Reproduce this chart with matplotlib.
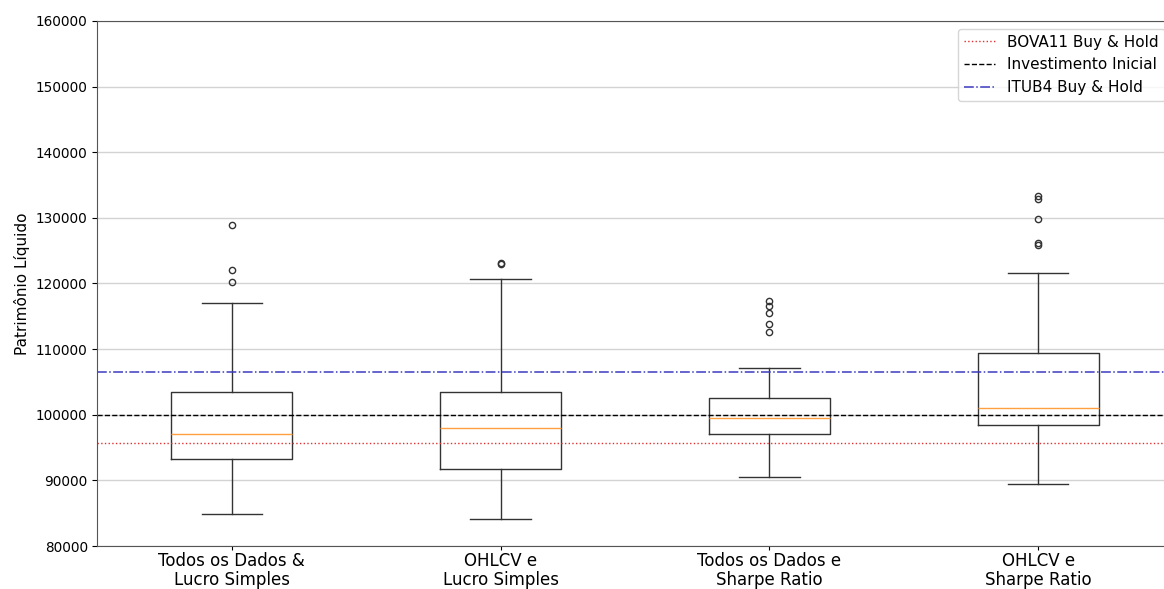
import matplotlib
matplotlib.use('Agg')
import matplotlib.pyplot as plt

# Box statistics
labels = ['Todos os Dados &\nLucro Simples', 'OHLCV e\nLucro Simples',
          'Todos os Dados e\nSharpe Ratio', 'OHLCV e\nSharpe Ratio']
whislo = [84900, 84100, 90500, 89400]
q1 = [93300, 91700, 97000, 98500]
med = [97100, 98000, 99500, 101000]
q3 = [103500, 103400, 102600, 109400]
whishi = [117100, 120700, 107100, 121600]
fliers = [
    [128900, 122000, 120200],
    [123100, 122900],
    [117300, 116500, 115500, 113900, 112600],
    [133300, 132900, 129800, 126100, 125900],
]

bova11 = 95700
inicial = 100000
itub4 = 106500

stats = []
for i in range(len(labels)):
    stats.append({'label': labels[i], 'whislo': whislo[i], 'q1': q1[i], 'med': med[i],
                  'q3': q3[i], 'whishi': whishi[i], 'fliers': fliers[i]})

fig = plt.figure(figsize=(11.64, 5.89), dpi=100)
# the original image is cut a little on the right, so the axes run past the edge
ax = fig.add_axes([97.5 / 1164, 43 / 589, 1075 / 1164, 525 / 589])

ax.yaxis.grid(True, color='#d3d3d3', linewidth=1.0)
ax.set_axisbelow(True)

line_col = '#333333'
ax.bxp(stats, widths=0.45,
       boxprops=dict(linewidth=1.0, color=line_col),
       whiskerprops=dict(linewidth=1.0, color=line_col),
       capprops=dict(linewidth=1.0, color=line_col),
       medianprops=dict(color='#ff9f40', linewidth=1.0),
       flierprops=dict(marker='o', markersize=4.5, markeredgewidth=1.0,
                       markeredgecolor=line_col, markerfacecolor='none'))

ax.axhline(bova11, color='#e03030', linestyle=':', linewidth=1.0, label='BOVA11 Buy & Hold')
ax.axhline(inicial, color='black', linestyle='--', linewidth=1.0, label='Investimento Inicial')
ax.axhline(itub4, color='#3a3ac0', linestyle='-.', linewidth=1.1, label='ITUB4 Buy & Hold')

ax.set_ylim(80000, 160000)
ax.set_yticks(range(80000, 160001, 10000))
ax.set_ylabel('Patrimônio Líquido', fontsize=11)
ax.set_xlim(0.5, 4.5)
ax.tick_params(axis='y', labelsize=9.8)
ax.tick_params(axis='x', labelsize=12, length=3, pad=1.5)
for t in ax.get_xticklabels():
    t.set_linespacing(1.05)
for sp in ax.spines.values():
    sp.set_color('#555555')

ax.legend(loc='upper right', fontsize=11)

fig.savefig('out.png', dpi=100)
